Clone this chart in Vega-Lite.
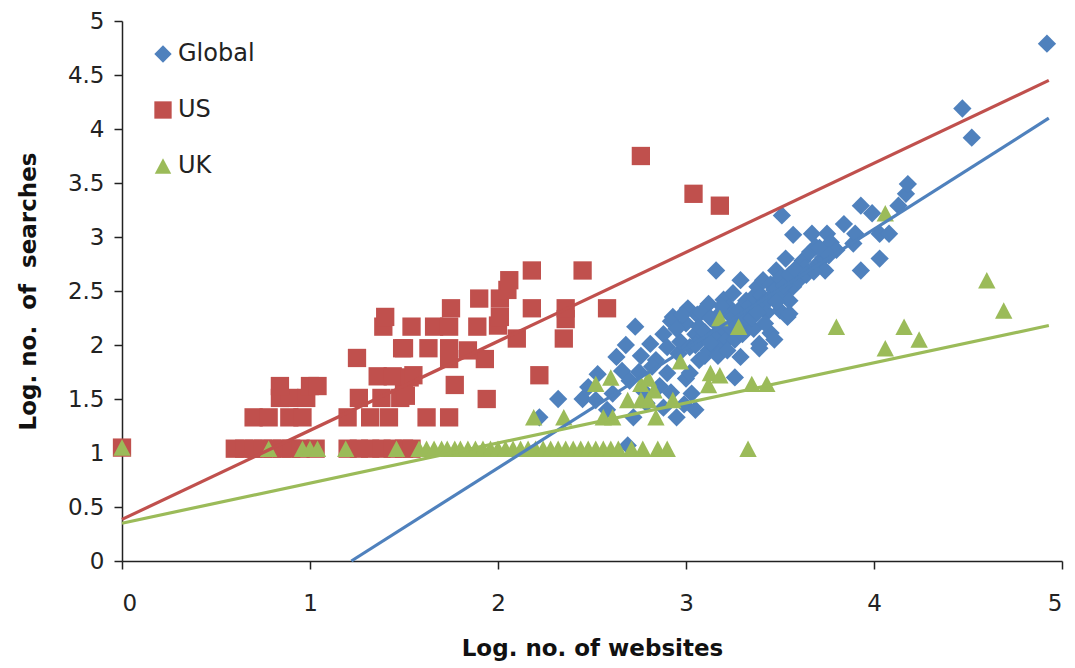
{
  "$schema": "https://vega.github.io/schema/vega-lite/v6.json",
  "width": 940,
  "height": 540,
  "autosize": {"type": "none"},
  "padding": {"left": 122, "top": 21, "right": 13, "bottom": 107},
  "background": "white",
  "config": {
    "view": {"stroke": null},
    "font": "DejaVu Sans"
  },
  "datasets": {
    "fits": [
      {"series": "Global", "x": 1.22, "y": 0},
      {"series": "Global", "x": 4.93, "y": 4.10},
      {"series": "US", "x": 0, "y": 0.385},
      {"series": "US", "x": 4.93, "y": 4.45},
      {"series": "UK", "x": 0, "y": 0.35},
      {"series": "UK", "x": 4.93, "y": 2.18}
    ],
    "pts": [
      {"series":"Global","x":2.22,"y":1.33},{"series":"Global","x":2.32,"y":1.50},{"series":"Global","x":2.45,"y":1.50},{"series":"Global","x":2.52,"y":1.49},
      {"series":"Global","x":2.48,"y":1.61},{"series":"Global","x":2.53,"y":1.73},{"series":"Global","x":2.58,"y":1.40},{"series":"Global","x":2.61,"y":1.55},
      {"series":"Global","x":2.63,"y":1.89},{"series":"Global","x":2.66,"y":1.76},{"series":"Global","x":2.68,"y":2.00},{"series":"Global","x":2.70,"y":1.67},
      {"series":"Global","x":2.72,"y":1.33},{"series":"Global","x":2.69,"y":1.07},{"series":"Global","x":2.73,"y":2.17},{"series":"Global","x":2.76,"y":1.90},
      {"series":"Global","x":2.77,"y":1.58},{"series":"Global","x":2.79,"y":1.46},{"series":"Global","x":2.81,"y":2.01},{"series":"Global","x":2.84,"y":1.86},
      {"series":"Global","x":2.86,"y":1.62},{"series":"Global","x":2.88,"y":2.10},{"series":"Global","x":2.90,"y":1.74},{"series":"Global","x":2.92,"y":2.22},
      {"series":"Global","x":2.93,"y":2.26},{"series":"Global","x":2.95,"y":1.33},{"series":"Global","x":2.96,"y":1.92},{"series":"Global","x":2.97,"y":2.03},
      {"series":"Global","x":3.00,"y":1.69},{"series":"Global","x":3.01,"y":2.34},{"series":"Global","x":3.00,"y":2.20},{"series":"Global","x":3.02,"y":1.98},
      {"series":"Global","x":3.02,"y":1.74},{"series":"Global","x":3.03,"y":1.55},{"series":"Global","x":3.05,"y":2.10},{"series":"Global","x":3.06,"y":2.28},
      {"series":"Global","x":3.07,"y":2.17},{"series":"Global","x":3.07,"y":2.04},{"series":"Global","x":3.07,"y":1.86},{"series":"Global","x":3.10,"y":2.12},
      {"series":"Global","x":3.12,"y":1.95},{"series":"Global","x":3.12,"y":2.38},{"series":"Global","x":3.14,"y":2.07},{"series":"Global","x":3.15,"y":2.22},
      {"series":"Global","x":3.16,"y":2.69},{"series":"Global","x":3.16,"y":2.10},{"series":"Global","x":3.18,"y":2.29},{"series":"Global","x":3.18,"y":1.98},
      {"series":"Global","x":3.20,"y":2.15},{"series":"Global","x":3.20,"y":2.42},{"series":"Global","x":3.22,"y":2.05},{"series":"Global","x":3.23,"y":2.35},
      {"series":"Global","x":3.25,"y":2.48},{"series":"Global","x":3.25,"y":2.25},{"series":"Global","x":3.26,"y":1.70},{"series":"Global","x":3.28,"y":2.32},
      {"series":"Global","x":3.29,"y":2.60},{"series":"Global","x":3.29,"y":1.89},{"series":"Global","x":3.30,"y":2.18},{"series":"Global","x":3.32,"y":2.41},
      {"series":"Global","x":3.32,"y":2.26},{"series":"Global","x":3.34,"y":2.36},{"series":"Global","x":3.36,"y":2.15},{"series":"Global","x":3.36,"y":2.45},
      {"series":"Global","x":3.38,"y":2.54},{"series":"Global","x":3.39,"y":1.97},{"series":"Global","x":3.39,"y":2.01},{"series":"Global","x":3.40,"y":2.46},
      {"series":"Global","x":3.41,"y":2.60},{"series":"Global","x":3.41,"y":2.38},{"series":"Global","x":3.43,"y":2.30},{"series":"Global","x":3.45,"y":2.11},
      {"series":"Global","x":3.45,"y":2.56},{"series":"Global","x":3.47,"y":2.51},{"series":"Global","x":3.47,"y":2.05},{"series":"Global","x":3.48,"y":2.69},
      {"series":"Global","x":3.50,"y":2.32},{"series":"Global","x":3.50,"y":2.62},{"series":"Global","x":3.51,"y":3.20},{"series":"Global","x":3.52,"y":2.48},
      {"series":"Global","x":3.53,"y":2.80},{"series":"Global","x":3.54,"y":2.26},{"series":"Global","x":3.55,"y":2.41},{"series":"Global","x":3.55,"y":2.29},
      {"series":"Global","x":3.57,"y":2.54},{"series":"Global","x":3.57,"y":3.02},{"series":"Global","x":3.60,"y":2.60},{"series":"Global","x":3.62,"y":2.78},
      {"series":"Global","x":3.63,"y":2.71},{"series":"Global","x":3.66,"y":2.86},{"series":"Global","x":3.67,"y":3.03},{"series":"Global","x":3.69,"y":2.91},
      {"series":"Global","x":3.70,"y":2.75},{"series":"Global","x":3.73,"y":2.81},{"series":"Global","x":3.74,"y":2.69},{"series":"Global","x":3.75,"y":3.03},
      {"series":"Global","x":3.77,"y":2.95},{"series":"Global","x":3.80,"y":2.88},{"series":"Global","x":3.84,"y":3.12},{"series":"Global","x":3.89,"y":2.94},
      {"series":"Global","x":3.90,"y":3.03},{"series":"Global","x":3.93,"y":3.29},{"series":"Global","x":3.93,"y":2.69},{"series":"Global","x":3.99,"y":3.22},
      {"series":"Global","x":4.03,"y":3.03},{"series":"Global","x":4.03,"y":2.80},{"series":"Global","x":4.08,"y":3.03},{"series":"Global","x":4.13,"y":3.29},
      {"series":"Global","x":4.17,"y":3.40},{"series":"Global","x":4.18,"y":3.49},{"series":"Global","x":4.47,"y":4.19},{"series":"Global","x":4.52,"y":3.92},
      {"series":"Global","x":4.92,"y":4.79},
      {"series":"Global","x":2.88,"y":1.42},{"series":"Global","x":2.99,"y":1.45},{"series":"Global","x":3.05,"y":1.40},{"series":"Global","x":2.92,"y":1.56},
      {"series":"Global","x":3.05,"y":2.00},{"series":"Global","x":3.10,"y":1.90},{"series":"Global","x":3.13,"y":2.02},{"series":"Global","x":3.17,"y":1.90},
      {"series":"Global","x":3.22,"y":1.95},{"series":"Global","x":3.24,"y":2.15},{"series":"Global","x":3.26,"y":2.05},{"series":"Global","x":3.30,"y":2.10},
      {"series":"Global","x":3.35,"y":2.25},{"series":"Global","x":3.38,"y":2.30},{"series":"Global","x":3.42,"y":2.20},{"series":"Global","x":3.44,"y":2.42},
      {"series":"Global","x":3.48,"y":2.40},{"series":"Global","x":3.52,"y":2.55},{"series":"Global","x":3.55,"y":2.65},{"series":"Global","x":3.58,"y":2.70},
      {"series":"Global","x":3.64,"y":2.65},{"series":"Global","x":3.68,"y":2.68},{"series":"Global","x":3.71,"y":2.90},{"series":"Global","x":3.76,"y":2.83},
      {"series":"Global","x":3.08,"y":2.30},{"series":"Global","x":3.13,"y":2.25},{"series":"Global","x":3.19,"y":2.36},{"series":"Global","x":2.98,"y":2.28},
      {"series":"Global","x":2.95,"y":2.15},{"series":"Global","x":2.90,"y":1.98},{"series":"Global","x":2.82,"y":1.80},{"series":"Global","x":2.75,"y":1.75},

      {"series":"US","x":0,"y":1.05},
      {"series":"US","x":0.60,"y":1.04},{"series":"US","x":0.65,"y":1.04},{"series":"US","x":0.70,"y":1.04},{"series":"US","x":0.75,"y":1.04},
      {"series":"US","x":0.80,"y":1.04},{"series":"US","x":0.85,"y":1.04},{"series":"US","x":0.90,"y":1.04},{"series":"US","x":0.95,"y":1.04},
      {"series":"US","x":1.03,"y":1.04},{"series":"US","x":1.20,"y":1.04},{"series":"US","x":1.26,"y":1.04},{"series":"US","x":1.32,"y":1.04},
      {"series":"US","x":1.38,"y":1.04},{"series":"US","x":1.44,"y":1.04},{"series":"US","x":1.50,"y":1.04},{"series":"US","x":1.54,"y":1.04},
      {"series":"US","x":0.70,"y":1.33},{"series":"US","x":0.78,"y":1.33},{"series":"US","x":0.89,"y":1.33},{"series":"US","x":0.96,"y":1.33},
      {"series":"US","x":1.20,"y":1.33},{"series":"US","x":1.32,"y":1.33},{"series":"US","x":1.42,"y":1.33},{"series":"US","x":1.62,"y":1.33},
      {"series":"US","x":1.74,"y":1.33},
      {"series":"US","x":0.84,"y":1.51},{"series":"US","x":0.89,"y":1.51},{"series":"US","x":0.98,"y":1.51},{"series":"US","x":1.26,"y":1.51},
      {"series":"US","x":1.38,"y":1.51},{"series":"US","x":1.48,"y":1.51},{"series":"US","x":1.51,"y":1.53},{"series":"US","x":1.94,"y":1.50},
      {"series":"US","x":0.84,"y":1.62},{"series":"US","x":1.00,"y":1.62},{"series":"US","x":1.04,"y":1.62},{"series":"US","x":1.77,"y":1.63},
      {"series":"US","x":1.50,"y":1.64},
      {"series":"US","x":1.36,"y":1.71},{"series":"US","x":1.44,"y":1.71},{"series":"US","x":1.53,"y":1.70},{"series":"US","x":1.55,"y":1.72},
      {"series":"US","x":2.22,"y":1.72},
      {"series":"US","x":1.25,"y":1.88},{"series":"US","x":1.74,"y":1.87},{"series":"US","x":1.93,"y":1.87},
      {"series":"US","x":1.49,"y":1.97},{"series":"US","x":1.50,"y":1.97},{"series":"US","x":1.63,"y":1.97},{"series":"US","x":1.74,"y":1.97},
      {"series":"US","x":1.84,"y":1.95},
      {"series":"US","x":2.10,"y":2.06},{"series":"US","x":2.35,"y":2.06},
      {"series":"US","x":1.39,"y":2.17},{"series":"US","x":1.54,"y":2.17},{"series":"US","x":1.66,"y":2.17},{"series":"US","x":1.74,"y":2.17},
      {"series":"US","x":1.89,"y":2.17},{"series":"US","x":2.00,"y":2.18},
      {"series":"US","x":1.40,"y":2.26},{"series":"US","x":2.01,"y":2.26},{"series":"US","x":2.36,"y":2.24},
      {"series":"US","x":1.75,"y":2.34},{"series":"US","x":2.18,"y":2.34},{"series":"US","x":2.36,"y":2.34},{"series":"US","x":2.58,"y":2.34},
      {"series":"US","x":1.90,"y":2.43},{"series":"US","x":2.01,"y":2.43},{"series":"US","x":2.05,"y":2.51},{"series":"US","x":2.06,"y":2.60},
      {"series":"US","x":2.18,"y":2.69},{"series":"US","x":2.45,"y":2.69},
      {"series":"US","x":2.76,"y":3.75},{"series":"US","x":3.04,"y":3.40},{"series":"US","x":3.18,"y":3.29},

      {"series":"UK","x":0,"y":1.05},{"series":"UK","x":0.78,"y":1.04},{"series":"UK","x":0.96,"y":1.04},{"series":"UK","x":1.00,"y":1.04},
      {"series":"UK","x":1.04,"y":1.04},{"series":"UK","x":1.19,"y":1.04},{"series":"UK","x":1.46,"y":1.04},{"series":"UK","x":1.58,"y":1.04},
      {"series":"UK","x":1.62,"y":1.04},{"series":"UK","x":1.66,"y":1.04},{"series":"UK","x":1.70,"y":1.04},{"series":"UK","x":1.73,"y":1.04},
      {"series":"UK","x":1.77,"y":1.04},{"series":"UK","x":1.80,"y":1.04},{"series":"UK","x":1.84,"y":1.04},{"series":"UK","x":1.88,"y":1.04},
      {"series":"UK","x":1.92,"y":1.04},{"series":"UK","x":1.96,"y":1.04},{"series":"UK","x":2.00,"y":1.04},{"series":"UK","x":2.04,"y":1.04},
      {"series":"UK","x":2.08,"y":1.04},{"series":"UK","x":2.12,"y":1.04},{"series":"UK","x":2.16,"y":1.04},{"series":"UK","x":2.20,"y":1.04},
      {"series":"UK","x":2.24,"y":1.04},{"series":"UK","x":2.28,"y":1.04},{"series":"UK","x":2.32,"y":1.04},{"series":"UK","x":2.36,"y":1.04},
      {"series":"UK","x":2.40,"y":1.04},{"series":"UK","x":2.44,"y":1.04},{"series":"UK","x":2.48,"y":1.04},{"series":"UK","x":2.52,"y":1.04},
      {"series":"UK","x":2.56,"y":1.04},{"series":"UK","x":2.60,"y":1.04},{"series":"UK","x":2.64,"y":1.04},{"series":"UK","x":2.71,"y":1.04},
      {"series":"UK","x":2.77,"y":1.04},{"series":"UK","x":2.85,"y":1.04},{"series":"UK","x":2.90,"y":1.04},{"series":"UK","x":3.33,"y":1.04},
      {"series":"UK","x":2.19,"y":1.33},{"series":"UK","x":2.35,"y":1.33},{"series":"UK","x":2.52,"y":1.64},{"series":"UK","x":2.60,"y":1.70},
      {"series":"UK","x":2.56,"y":1.33},{"series":"UK","x":2.61,"y":1.33},{"series":"UK","x":2.69,"y":1.49},{"series":"UK","x":2.76,"y":1.49},
      {"series":"UK","x":2.80,"y":1.49},{"series":"UK","x":2.83,"y":1.58},{"series":"UK","x":2.76,"y":1.64},{"series":"UK","x":2.80,"y":1.69},
      {"series":"UK","x":2.84,"y":1.33},{"series":"UK","x":2.93,"y":1.49},{"series":"UK","x":2.97,"y":1.85},{"series":"UK","x":3.12,"y":1.63},
      {"series":"UK","x":3.13,"y":1.74},{"series":"UK","x":3.18,"y":1.72},{"series":"UK","x":3.18,"y":2.25},{"series":"UK","x":3.28,"y":2.17},
      {"series":"UK","x":3.35,"y":1.64},{"series":"UK","x":3.43,"y":1.64},{"series":"UK","x":3.80,"y":2.17},{"series":"UK","x":4.06,"y":3.22},
      {"series":"UK","x":4.06,"y":1.97},{"series":"UK","x":4.16,"y":2.17},{"series":"UK","x":4.24,"y":2.05},{"series":"UK","x":4.60,"y":2.60},
      {"series":"UK","x":4.69,"y":2.32}
    ]
  },
  "layer": [
    {
      "data": {"name": "pts"},
      "mark": {"type": "point", "filled": true, "opacity": 1, "size": 335, "strokeWidth": 0},
      "encoding": {
        "x": {
          "field": "x", "type": "quantitative",
          "scale": {"domain": [0, 5], "nice": false},
          "axis": {
            "title": "Log. no. of websites",
            "values": [0, 1, 2, 3, 4, 5],
            "format": "~g",
            "grid": false,
            "domainColor": "#222", "domainWidth": 1.5,
            "tickColor": "#222", "tickWidth": 1.5, "tickSize": 8,
            "labelFont": "DejaVu Sans", "labelFontSize": 23, "labelColor": "#222", "labelPadding": 23,
            "titleFont": "DejaVu Sans", "titleFontSize": 23, "titleFontWeight": "bold", "titleColor": "#111", "titlePadding": 22
          }
        },
        "y": {
          "field": "y", "type": "quantitative",
          "scale": {"domain": [0, 5], "nice": false},
          "axis": {
            "title": "Log. no.\u00a0 of\u00a0 searches",
            "values": [0, 0.5, 1, 1.5, 2, 2.5, 3, 3.5, 4, 4.5, 5],
            "format": "~g",
            "grid": false,
            "domainColor": "#222", "domainWidth": 1.5,
            "tickColor": "#222", "tickWidth": 1.5, "tickSize": 8,
            "labelFont": "DejaVu Sans", "labelFontSize": 23, "labelColor": "#222", "labelPadding": 10,
            "titleFont": "DejaVu Sans", "titleFontSize": 23, "titleFontWeight": "bold", "titleColor": "#111", "titlePadding": 27
          }
        },
        "color": {
          "field": "series", "type": "nominal",
          "scale": {"domain": ["Global", "US", "UK"], "range": ["#4F81BD", "#C0504D", "#9BBB59"]},
          "legend": {
            "orient": "none", "legendX": 29, "legendY": 21, "title": null, "padding": 0,
            "labelFont": "DejaVu Sans", "labelFontSize": 24, "labelColor": "#222", "labelOffset": 3,
            "symbolSize": 300, "rowPadding": 32, "symbolStrokeWidth": 0
          }
        },
        "shape": {
          "field": "series", "type": "nominal",
          "scale": {"domain": ["Global", "US", "UK"], "range": ["diamond", "square", "M-0.95,0.9L0,-0.9L0.95,0.9Z"]},
          "legend": {
            "orient": "none", "legendX": 29, "legendY": 21, "title": null, "padding": 0,
            "labelFont": "DejaVu Sans", "labelFontSize": 24, "labelColor": "#222", "labelOffset": 3,
            "symbolSize": 300, "rowPadding": 32, "symbolStrokeWidth": 0
          }
        }
      }
    },
    {
      "data": {"name": "fits"},
      "mark": {"type": "line", "strokeWidth": 3.2},
      "encoding": {
        "x": {"field": "x", "type": "quantitative"},
        "y": {"field": "y", "type": "quantitative"},
        "detail": {"field": "series"},
        "color": {"field": "series", "type": "nominal", "legend": null}
      }
    }
  ]
}
